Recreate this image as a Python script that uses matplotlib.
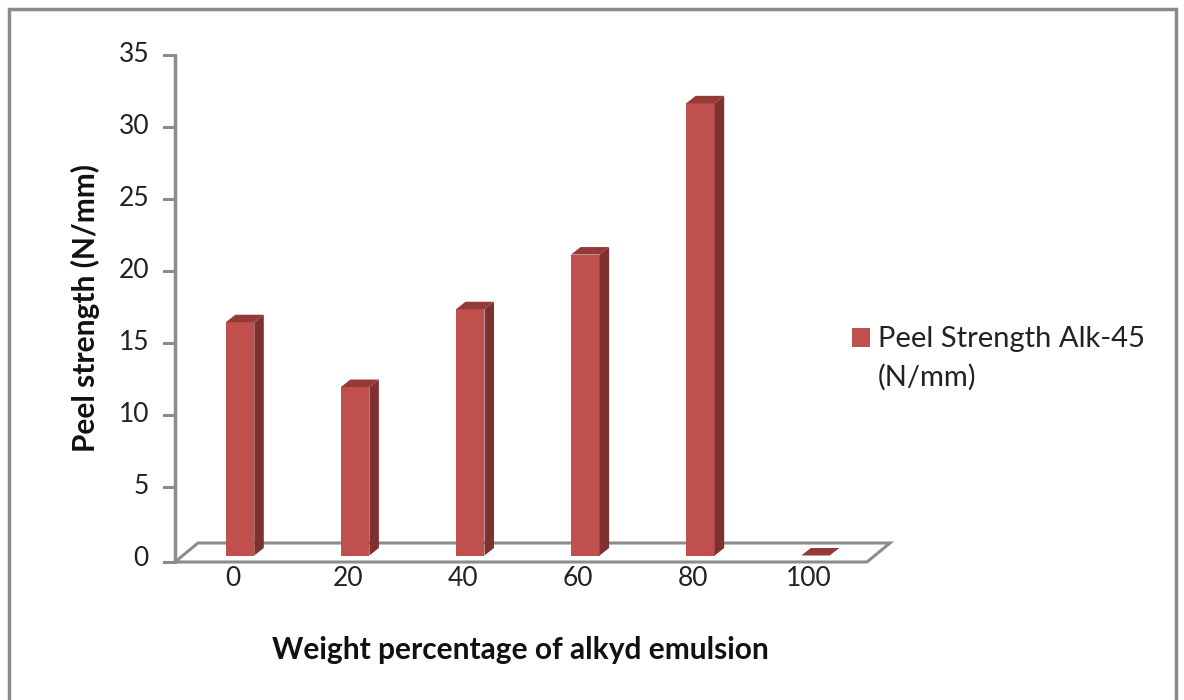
import matplotlib
matplotlib.use("Agg")
import matplotlib.pyplot as plt
from matplotlib.patches import Polygon, Rectangle
import matplotlib.transforms as mtransforms

plt.rcParams['font.family'] = ['Lato', 'DejaVu Sans']

# peel strength vs. alkyd emulsion content
categories = ['0', '20', '40', '60', '80', '100']
peel_strength = [16.2, 11.7, 17.1, 20.9, 31.4, 0.0]
series_name = 'Peel Strength Alk-45\n(N/mm)'
y_ticks = [0, 5, 10, 15, 20, 25, 30, 35]

W, H, DPI = 1184, 700, 100
fig = plt.figure(figsize=(W / DPI, H / DPI), dpi=DPI)

# plot area in pixels (left, right, bottom, top)
px_l, px_r, px_b, px_t = 175, 867, 559, 55
ax = fig.add_axes([px_l / W, 1 - px_b / H, (px_r - px_l) / W, (px_b - px_t) / H])
x0, x1 = -0.565, 5.447
ax.set_xlim(x0, x1)
ax.set_ylim(0, 35)
ax.axis('off')

# pixel -> data scale factors for the fake 3d depth
sx = (px_r - px_l) / (x1 - x0)
sy = (px_b - px_t) / 35.0
ddx, ddy = 9.5 / sx, 7.5 / sy          # bar depth
fdx, fdy = 23.0 / sx, 19.0 / sy        # floor depth
base = 3.5 / sy                         # bars sit a bit behind the front edge
front_y = -3.0 / sy

grey = '#8c8c8c'
front_c, side_c, top_c = '#c0504d', '#7f3130', '#943a38'
txt_c = '#222222'

# floor
floor = Polygon([(x0, front_y), (x1, front_y), (x1 + fdx, front_y + fdy),
                 (x0 + fdx, front_y + fdy)], closed=True, facecolor='white',
                edgecolor=grey, linewidth=2.2, clip_on=False, zorder=1)
ax.add_patch(floor)

# y axis line and ticks
ax.plot([x0, x0], [front_y, 35], color=grey, lw=2.5, clip_on=False,
        solid_capstyle='butt', zorder=2)
tick_len = 11.0 / sx
for t in y_ticks:
    ty = front_y if t == 0 else t
    ax.plot([x0 - tick_len, x0], [ty, ty], color=grey, lw=2.2, clip_on=False, zorder=2)
    ax.text(x0 - 26.0 / sx, t, str(t), ha='right', va='center', fontsize=19,
            color=txt_c)

# bars: front faces through ax.bar, side and top faces as polygons
xs = list(range(len(categories)))
w = 28.5 / sx
ax.bar(xs, peel_strength, width=w, bottom=base, color=front_c,
       linewidth=0, zorder=3, clip_on=False)
for x, v in zip(xs, peel_strength):
    r, l = x + w / 2, x - w / 2
    top = base + v
    if v > 0:
        ax.add_patch(Polygon([(r, base), (r + ddx, base + ddy), (r + ddx, top + ddy),
                              (r, top)], closed=True, facecolor=side_c,
                             linewidth=0, zorder=3))
    ax.add_patch(Polygon([(l, top), (r, top), (r + ddx, top + ddy), (l + ddx, top + ddy)],
                         closed=True, facecolor=top_c, linewidth=0, zorder=3))

# category labels under the floor
off = mtransforms.ScaledTranslation(-7 / DPI, 0, fig.dpi_scale_trans)
for x, lab in zip(xs, categories):
    ax.text(x, -19.0 / sy, lab, ha='center', va='center', fontsize=19,
            color=txt_c, transform=ax.transData + off, clip_on=False)

# axis titles
fig.text(520 / W, 1 - 650 / H, 'Weight percentage of alkyd emulsion',
         ha='center', va='center', fontsize=21.5, fontweight='bold', color='#111111')
fig.text(85 / W, 1 - 308 / H, 'Peel strength (N/mm)', rotation=90,
         ha='center', va='center', fontsize=21.5, fontweight='bold', color='#111111')

# legend
fig.patches.append(Rectangle((852 / W, 1 - 347 / H), 18 / W, 19 / H,
                             transform=fig.transFigure, facecolor=front_c,
                             edgecolor='none'))
fig.text(878 / W, 1 - 326 / H, series_name, ha='left', va='top', fontsize=21,
         color=txt_c, linespacing=1.55)

# chart border
fig.patches.append(Rectangle((8.5 / W, -0.02), 1167 / W, 1 - 8.5 / H + 0.02,
                             transform=fig.transFigure, facecolor='none',
                             edgecolor='#8a8a8a', linewidth=2.5))

fig.savefig('out.png', dpi=DPI)
